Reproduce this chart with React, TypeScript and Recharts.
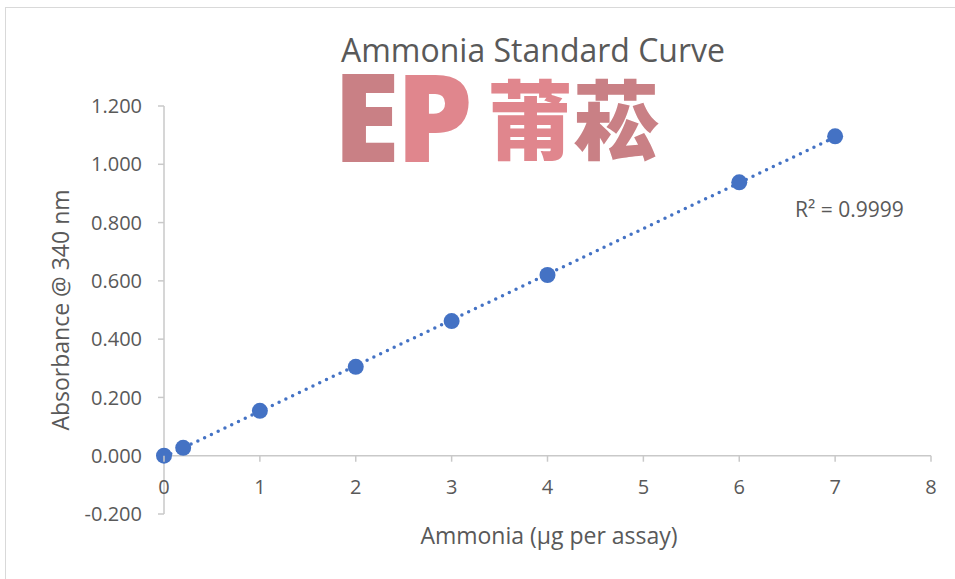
import React from 'react';
import { ScatterChart, Scatter, XAxis, YAxis, ReferenceLine } from 'recharts';

// Standard curve readings
const ammonia = [0, 0.2, 1, 2, 3, 4, 6, 7];
const absorbance = [0, 0.027, 0.154, 0.305, 0.462, 0.62, 0.938, 1.096];
const xTicks = [0, 1, 2, 3, 4, 5, 6, 7, 8];
const yTicks = [-0.2, 0, 0.2, 0.4, 0.6, 0.8, 1.0, 1.2];
const rSquared = '0.9999';

const W = 955;
const H = 579;
const MARGIN = { top: 106, right: 24, bottom: 35, left: 84 };
const Y_AXIS_W = 80;
const X_AXIS_H = 30;
const Y_MIN = -0.2;
const Y_MAX = 1.2;
const PLOT_H = H - MARGIN.top - MARGIN.bottom - X_AXIS_H;
const ZERO_Y = MARGIN.top + (PLOT_H * Y_MAX) / (Y_MAX - Y_MIN);

const FONT = '"Open Sans", sans-serif';
const TEXT = '#595959';
const AXIS = '#c9c9c9';
const BLUE = '#4472C4';

const points = ammonia.map((x, i) => ({ x, y: absorbance[i] }));

// least squares fit for the trendline
const n = points.length;
const mx = ammonia.reduce((a, b) => a + b, 0) / n;
const my = absorbance.reduce((a, b) => a + b, 0) / n;
const slope =
  points.reduce((s, p) => s + (p.x - mx) * (p.y - my), 0) /
  points.reduce((s, p) => s + (p.x - mx) ** 2, 0);
const icpt = my - slope * mx;
const trend = [0, 7].map(x => ({ x, y: icpt + slope * x }));

const XTick = (props: any) => {
  const { x, payload } = props;
  return (
    <g>
      <line x1={x} x2={x} y1={ZERO_Y} y2={ZERO_Y + 6} stroke={AXIS} strokeWidth={1.5} />
      <text x={x} y={ZERO_Y + 38} textAnchor="middle" fill={TEXT} fontSize={20} fontFamily={FONT}>
        {payload.value}
      </text>
    </g>
  );
};

const mark = (color: string, family: string, size: number, extra: any = {}) => ({
  display: 'inline-block',
  verticalAlign: 'top',
  height: 89,
  lineHeight: '89px',
  color,
  fontFamily: family,
  fontWeight: 900,
  fontSize: size,
  ...extra,
});

export default function App() {
  return (
    <div style={{ position: 'absolute', left: 0, top: 0, width: W, height: H, overflow: 'hidden', background: '#fff', fontFamily: FONT }}>
      <div style={{ position: 'absolute', left: 5, top: 7, width: W, height: H, border: '1.5px solid #d9d9d9' }} />

      <ScatterChart width={W} height={H} margin={MARGIN} style={{ position: 'absolute', left: 0, top: 0 }}>
        <XAxis
          type="number"
          dataKey="x"
          domain={[0, 8]}
          ticks={xTicks}
          axisLine={false}
          tickLine={false}
          tick={<XTick />}
          height={X_AXIS_H}
          interval={0}
        />
        <YAxis
          type="number"
          dataKey="y"
          domain={[Y_MIN, Y_MAX]}
          ticks={yTicks}
          width={Y_AXIS_W}
          interval={0}
          stroke={AXIS}
          axisLine={{ stroke: AXIS, strokeWidth: 1.5 }}
          tickLine={{ stroke: AXIS, strokeWidth: 1.5 }}
          tickSize={6}
          tickMargin={16}
          tick={{ fill: TEXT, fontSize: 20, fontFamily: FONT }}
          tickFormatter={(v: number) => v.toFixed(3)}
        />
        <ReferenceLine y={0} stroke={AXIS} strokeWidth={1.5} />
        <Scatter
          data={trend}
          line={{ stroke: BLUE, strokeWidth: 3.5, strokeDasharray: '0 7.5', strokeLinecap: 'round' }}
          shape={() => <g />}
          isAnimationActive={false}
        />
        <Scatter
          data={points}
          fill={BLUE}
          isAnimationActive={false}
          shape={(p: any) => <circle cx={p.cx} cy={p.cy} r={8} fill={BLUE} />}
        />
      </ScatterChart>

      <div style={{ position: 'absolute', left: 533, top: 50, transform: 'translate(-50%, -50%)', fontSize: 32, lineHeight: 1, color: TEXT, whiteSpace: 'nowrap' }}>
        Ammonia Standard Curve
      </div>

      {/* watermark logo */}
      <div style={{ position: 'absolute', left: 333, top: 71, width: 342, height: 89, whiteSpace: 'nowrap' }}>
        <span style={mark('#c98085', '"Noto Sans", sans-serif', 122)}>E</span>
        <span style={mark('#e0868d', '"Noto Sans", sans-serif', 122, { marginLeft: -4 })}>P</span>
        <span style={mark('#e0868d', '"Noto Sans CJK SC", sans-serif', 86, { marginLeft: 14 })}>莆</span>
        <span style={mark('#c98085', '"Noto Sans CJK SC", sans-serif', 86)}>菘</span>
      </div>

      <div style={{ position: 'absolute', left: 795, top: 209, transform: 'translateY(-50%)', fontSize: 21, color: TEXT, whiteSpace: 'nowrap' }}>
        R² = {rSquared}
      </div>

      <div style={{ position: 'absolute', left: 549, top: 535, transform: 'translate(-50%, -50%)', fontSize: 23, color: TEXT, whiteSpace: 'nowrap' }}>
        Ammonia (µg per assay)
      </div>

      <div style={{ position: 'absolute', left: 60, top: 310, transform: 'translate(-50%, -50%) rotate(-90deg)', fontSize: 23, color: TEXT, whiteSpace: 'nowrap' }}>
        Absorbance @ 340 nm
      </div>
    </div>
  );
}
